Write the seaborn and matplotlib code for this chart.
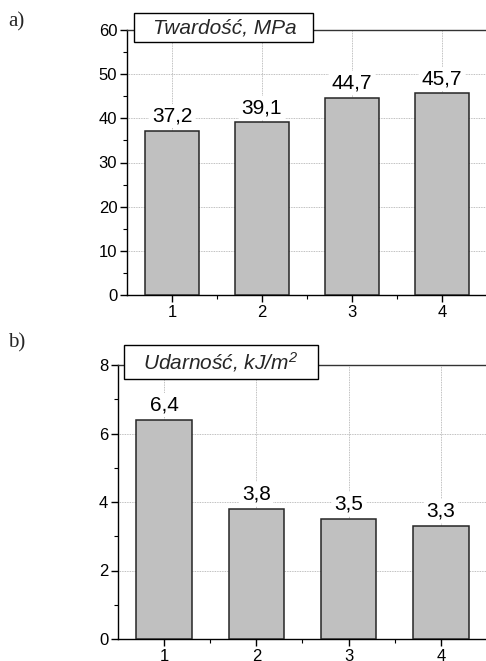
import matplotlib
matplotlib.use("Agg")
import matplotlib.pyplot as plt
import seaborn as sns
import pandas as pd
from matplotlib.ticker import MultipleLocator
from matplotlib.patches import Rectangle

sns.set_theme(style="white")
plt.rcParams['font.family'] = ['Liberation Sans', 'DejaVu Sans']
plt.rcParams['mathtext.fontset'] = 'custom'
plt.rcParams['mathtext.rm'] = 'Liberation Sans:italic'
plt.rcParams['mathtext.it'] = 'Liberation Sans:italic'

samples = ["1", "2", "3", "4"]
hardness = [37.2, 39.1, 44.7, 45.7]
impact = [6.4, 3.8, 3.5, 3.3]
hardness_labels = ["37,2", "39,1", "44,7", "45,7"]
impact_labels = ["6,4", "3,8", "3,5", "3,3"]

fig = plt.figure(figsize=(4.86, 6.61), dpi=100)
ax1 = fig.add_axes([127/486, 366/661, 1 - 127/486 + 0.002, 265/661])
ax2 = fig.add_axes([118/486, 22/661, 1 - 118/486 + 0.002, 274/661])

def style(ax, vals, labels, title, ymax, major, minor, off, box, tpos):
    df = pd.DataFrame({"s": samples, "v": vals})
    sns.barplot(data=df, x="s", y="v", ax=ax, color="#c0c0c0", saturation=1,
                width=0.6, edgecolor="#262626", linewidth=1.1, zorder=3)
    ax.set_xlim(-0.5, 3.5)
    ax.set_ylim(0, ymax)
    ax.set_xlabel("")
    ax.set_ylabel("")
    ax.yaxis.set_major_locator(MultipleLocator(major))
    ax.yaxis.set_minor_locator(MultipleLocator(minor))
    ax.set_xticks(range(4))
    ax.set_xticklabels(samples)
    ax.set_xticks([0.5, 1.5, 2.5], minor=True)
    ax.tick_params(axis="both", which="major", direction="out", length=5, width=1,
                   color="black", labelsize=12, bottom=True, left=True, pad=2, labelcolor="black")
    ax.tick_params(axis="both", which="minor", direction="out", length=3, width=0.8,
                   color="black", bottom=True, left=True)
    ax.grid(True, which="major", color="#aaaaaa", linestyle=(0, (1, 1)), linewidth=0.6, zorder=0)
    ax.set_axisbelow(True)
    for sp in ["left", "bottom", "top", "right"]:
        ax.spines[sp].set_visible(True)
        ax.spines[sp].set_color("#333333")
        ax.spines[sp].set_linewidth(1.0)
    ax.spines["left"].set_color("black")
    ax.spines["bottom"].set_color("black")
    for i, (v, lab) in enumerate(zip(vals, labels)):
        ax.annotate(lab, (i, v), xytext=(0, off), textcoords="offset points",
                    ha="center", va="center", fontsize=15, color="black", zorder=5,
                    bbox=dict(boxstyle="square,pad=0.12", fc="white", ec="none"))
    x0, x1, y0, y1 = box
    ax.add_patch(Rectangle((x0, y0), x1 - x0, y1 - y0, transform=ax.transAxes,
                           fc="white", ec="black", lw=1.0, clip_on=False, zorder=6))
    ax.text(tpos[0], tpos[1], title, transform=ax.transAxes, ha="center", va="center",
            fontsize=15, style="italic", zorder=7)

style(ax1, hardness, hardness_labels, "Twardość, MPa", 60, 10, 5, 10.5,
      (0.0195, 0.518, 0.9547, 1.064), (0.273, 1.006))
style(ax2, impact, impact_labels, "Udarność, kJ/m$^{2}$", 8, 2, 1, 11,
      (0.0163, 0.5408, 0.949, 1.073), (0.277, 1.011))

fig.text(8/486, 1 - 22/661, "a)", family="Liberation Serif", fontsize=15, va="center", ha="left")
fig.text(8/486, 1 - 343/661, "b)", family="Liberation Serif", fontsize=15, va="center", ha="left")

fig.savefig("out.png", dpi=100)
